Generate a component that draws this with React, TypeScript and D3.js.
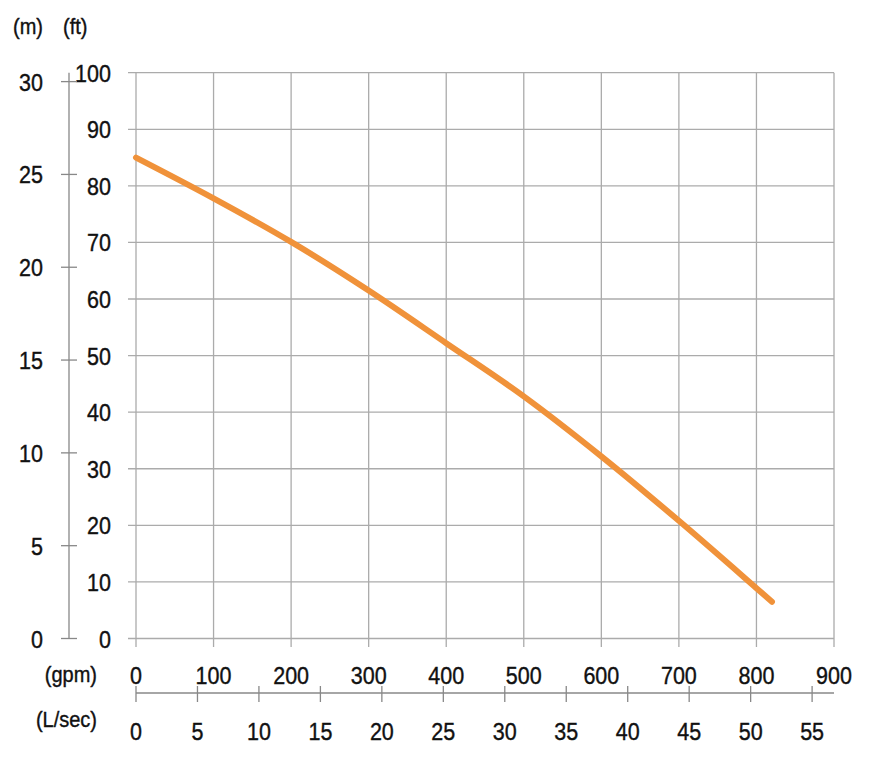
import React from 'react';
import * as d3 from 'd3';

// pump curve
const flowGpm = [0, 100, 200, 300, 400, 500, 600, 700, 800, 820];
const headFt = [85, 77.8, 70.1, 61.5, 52.2, 42.8, 32.2, 20.8, 8.9, 6.5];

const gpmTicks = [0, 100, 200, 300, 400, 500, 600, 700, 800, 900];
const lpsTicks = [0, 5, 10, 15, 20, 25, 30, 35, 40, 45, 50, 55];
const ftTicks = [0, 10, 20, 30, 40, 50, 60, 70, 80, 90, 100];
const mTicks = [0, 5, 10, 15, 20, 25, 30];

const GPM_TO_LPS = 0.0630902;
const M_TO_FT = 3.28084;

const width = 869;
const height = 767;

const txt = '#111';

// text is a little taller than Arial in the original, so stretch it vertically
const Label: React.FC<{ x: number; y: number; anchor?: string; size?: number; children: React.ReactNode }> = ({
  x, y, anchor = 'start', size = 21.5, children,
}) => (
  <text transform={`translate(${x},${y}) scale(1,1.13)`} textAnchor={anchor} fontSize={size}
    fill={txt} stroke={txt} strokeWidth={0.35}>
    {children}
  </text>
);

const App: React.FC = () => {
  const x = d3.scaleLinear().domain([0, 900]).range([136, 834]);
  const y = d3.scaleLinear().domain([0, 100]).range([638.5, 72.7]);
  const xl = d3.scaleLinear().domain([0, 900 * GPM_TO_LPS]).range([136, 834]);
  const ym = d3.scaleLinear().domain([0, 100 / M_TO_FT]).range([638.5, 72.7]);

  const pts: [number, number][] = flowGpm.map((g, i) => [g, headFt[i]]);
  const line = d3.line<[number, number]>()
    .x(d => x(d[0]))
    .y(d => y(d[1]))
    .curve(d3.curveMonotoneX);

  const grid = '#ababab';
  const font = '"Liberation Sans", Arial, Helvetica, sans-serif';

  return (
    <svg width={width} height={height} style={{ position: 'absolute', left: 0, top: 0, background: '#fff' }}
      fontFamily={font}>
      <rect width={width} height={height} fill="#fff" />

      {/* horizontal grid (ft) */}
      {ftTicks.map(t => (
        <line key={'h' + t} x1={128} x2={x(900)} y1={y(t)} y2={y(t)} stroke={grid} strokeWidth={1.3} />
      ))}
      {/* vertical grid (gpm) */}
      {gpmTicks.map(t => (
        <line key={'v' + t} x1={x(t)} x2={x(t)} y1={y(100)} y2={647} stroke={grid} strokeWidth={1.3} />
      ))}

      {/* ft labels */}
      {ftTicks.map(t => (
        <Label key={'ft' + t} x={111} y={y(t) + 9} anchor="end">{t}</Label>
      ))}

      {/* meter axis */}
      <line x1={69} x2={69} y1={y(100)} y2={y(0)} stroke="#888" strokeWidth={1.3} />
      {mTicks.map(t => (
        <g key={'m' + t}>
          <line x1={61} x2={77} y1={ym(t)} y2={ym(t)} stroke="#888" strokeWidth={1.3} />
          <Label x={43} y={ym(t) + 9} anchor="end">{t}</Label>
        </g>
      ))}

      {/* gpm labels */}
      {gpmTicks.map(t => (
        <Label key={'g' + t} x={x(t)} y={684} anchor="middle">{t}</Label>
      ))}

      {/* L/sec axis */}
      <line x1={xl(0)} x2={x(900)} y1={693} y2={693} stroke="#888" strokeWidth={1.3} />
      {lpsTicks.map(t => (
        <g key={'l' + t}>
          <line x1={xl(t)} x2={xl(t)} y1={686} y2={702} stroke="#888" strokeWidth={1.3} />
          <Label x={xl(t)} y={740} anchor="middle">{t}</Label>
        </g>
      ))}

      {/* unit labels */}
      <Label x={13} y={34} size={20}>(m)</Label>
      <Label x={63} y={34} size={20}>(ft)</Label>
      <Label x={97} y={682} anchor="end" size={20}>(gpm)</Label>
      <Label x={97} y={727} anchor="end" size={20}>(L/sec)</Label>

      {/* curve */}
      <path d={line(pts) || ''} fill="none" stroke="#f0923a" strokeWidth={6} strokeLinecap="round" strokeLinejoin="round" />
    </svg>
  );
};

export default App;
